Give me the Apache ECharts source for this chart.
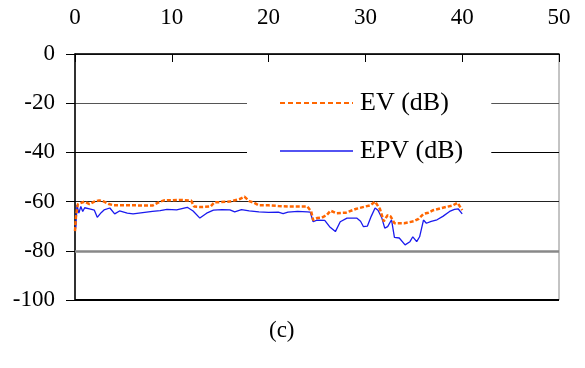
<!DOCTYPE html>
<html><head><meta charset="utf-8">
<script src="https://cdn.jsdelivr.net/npm/echarts@6/dist/echarts.min.js"></script>
<style>html,body{margin:0;padding:0;background:#fff}#c{width:585px;height:368px}</style>
</head><body><div id="c"></div>
<script>
var xTicks = [0, 10, 20, 30, 40, 50];
var yTicks = [0, -20, -40, -60, -80, -100];
var evX = [0, 0.1, 0.3, 0.5, 1, 1.5, 2, 2.5, 3, 3.5, 4, 5, 6, 7, 8, 8.8, 9.2, 10, 11, 12, 12.3, 13, 14, 14.4, 15, 16, 17, 17.5, 18, 18.5, 19, 20, 21, 22, 23, 24, 24.4, 24.6, 25, 25.5, 26, 26.4, 27, 28, 29, 30, 30.5, 31, 31.5, 31.9, 32.3, 32.6, 33, 34, 35, 35.5, 36, 36.5, 37, 38, 39, 39.5, 39.7, 40];
var evY = [-72, -66, -61, -60.5, -60, -61, -60, -59.5, -60, -61, -61.5, -61.5, -61.5, -61.6, -61.6, -60, -59.5, -59.5, -59.3, -59.6, -62, -62.2, -62, -60.3, -60.2, -60, -59, -58, -59.8, -60.5, -61.5, -61.5, -61.8, -62, -62, -62, -64, -67.5, -66.7, -66.5, -65.5, -63.7, -64.7, -64.5, -63, -62, -61.5, -60, -63, -68, -65.5, -66, -68.8, -68.8, -68, -67, -65, -64.5, -63.5, -62.5, -61.6, -60.5, -61.6, -63.5];
var epvX = [0, 0.1, 0.2, 0.4, 0.6, 0.8, 1.0, 1.5, 2.0, 2.3, 2.7, 3.0, 3.6, 4.1, 4.6, 5.4, 6.0, 7.0, 8.0, 8.8, 9.5, 10.5, 11.6, 12.2, 12.9, 13.6, 14.3, 15.2, 16, 16.5, 17.2, 18, 19, 20, 21, 21.5, 22, 23, 24, 24.3, 24.6, 25, 25.8, 26.3, 26.9, 27.4, 28.1, 29.1, 29.5, 29.8, 30.2, 30.6, 31, 31.3, 31.7, 32, 32.3, 32.7, 33, 33.5, 34.1, 34.6, 34.9, 35.3, 35.6, 36, 36.3, 36.8, 37.4, 38, 38.7, 39.2, 39.6, 39.8, 40];
var epvY = [-72, -70, -61.4, -64.7, -62, -64, -62.5, -63, -63.5, -66.4, -64.5, -63.4, -62.6, -65, -63.8, -64.7, -65, -64.5, -64, -63.7, -63.2, -63.4, -62.3, -63.8, -66.7, -64.7, -63.5, -63.3, -63.4, -64.2, -63.3, -63.8, -64.2, -64.4, -64.3, -64.9, -64.3, -64, -64.2, -64.3, -68.2, -67.5, -67.6, -70.2, -72.2, -68.2, -66.7, -66.7, -68, -70.2, -70, -66, -62.6, -63.5, -66.7, -70.8, -70.2, -67.4, -74.5, -74.8, -77.6, -76.3, -74.3, -76.3, -74.3, -67.5, -68.8, -68, -67.4, -66, -64, -63.2, -63, -63.6, -65];
var seriesNames = ['EV (dB)', 'EPV (dB)'];
var caption = '(c)';

function pairs(xs, ys) { return xs.map(function (x, i) { return [x, ys[i]]; }); }
var FONT = 'Liberation Serif';
var chart = echarts.init(document.getElementById('c'));
chart.setOption({
  animation: false,
  backgroundColor: '#fff',
  title: { text: caption, left: 264, top: 314, textStyle: { fontFamily: FONT, fontSize: 23, fontWeight: 'normal', color: '#000' } },
  grid: { left: 75, right: 26, top: 54, bottom: 68, show: true, borderColor: '#888', borderWidth: 1, backgroundColor: 'transparent' },
  legend: {
    orient: 'vertical', left: 247, top: 80, backgroundColor: '#fff',
    padding: [10, 28, 10, 32], itemWidth: 73, itemHeight: 26, itemGap: 22,
    itemStyle: { opacity: 0 },
    textStyle: { fontFamily: FONT, fontSize: 26, color: '#000', padding: [0, 0, 0, 2] },
    data: [
      { name: seriesNames[0], lineStyle: { type: [5, 3], width: 2 } },
      { name: seriesNames[1], lineStyle: { width: 1.5 } }
    ]
  },
  xAxis: {
    type: 'value', position: 'top', min: xTicks[0], max: xTicks[xTicks.length - 1], interval: 10,
    axisLine: { show: true, lineStyle: { color: '#000', width: 1.5 } },
    axisTick: { show: true, inside: true, length: 8, lineStyle: { color: '#000' } },
    axisLabel: { margin: 25, fontFamily: FONT, fontSize: 23, color: '#000' },
    splitLine: { show: false }
  },
  yAxis: {
    type: 'value', min: yTicks[yTicks.length - 1], max: yTicks[0], interval: 20,
    axisLine: { show: true, onZero: false, lineStyle: { color: '#000', width: 1.5 } },
    axisTick: { show: true, inside: false, length: 9, lineStyle: { color: '#000' } },
    axisLabel: { margin: 20, fontFamily: FONT, fontSize: 23, color: '#000' },
    splitLine: { show: true, lineStyle: { color: ['#000', '#888', '#222', '#000', '#555', '#333'], width: 1 } }
  },
  series: [
    { name: seriesNames[0], type: 'line', data: pairs(evX, evY), showSymbol: false, symbol: 'none', z: 3,
      lineStyle: { color: '#FF6600', width: 2.5, type: [4, 2] }, itemStyle: { color: '#FF6600' },
      markLine: { silent: true, symbol: 'none', label: { show: false }, lineStyle: { color: '#888', width: 2.5, type: 'solid' },
        data: [{ yAxis: yTicks[4] }, { yAxis: yTicks[5], lineStyle: { color: '#000', width: 2 } }] } },
    { name: seriesNames[1], type: 'line', data: pairs(epvX, epvY), showSymbol: false, symbol: 'none', z: 2,
      lineStyle: { color: '#1a1aee', width: 1.3 }, itemStyle: { color: '#1a1aee' } }
  ]
});
</script></body></html>
